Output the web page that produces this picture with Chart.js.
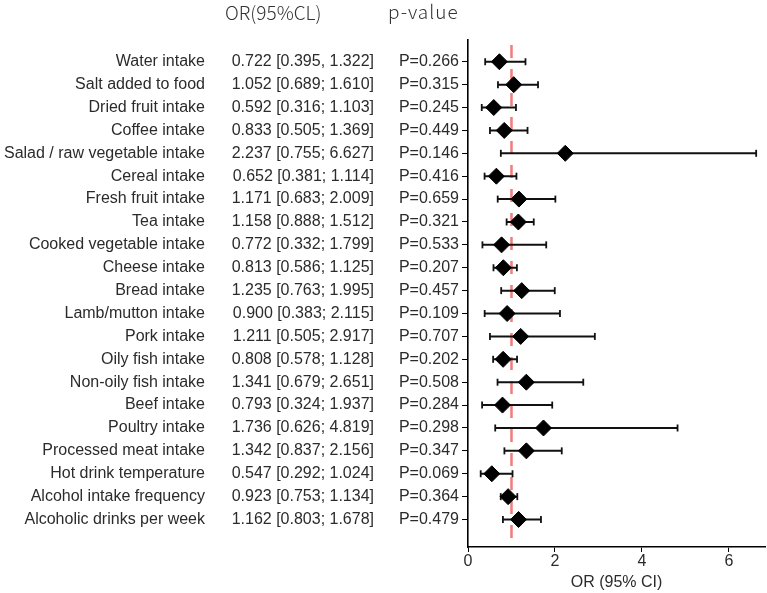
<!DOCTYPE html>
<html>
<head>
<meta charset="utf-8">
<script src="https://cdn.jsdelivr.net/npm/chart.js@4"></script>
<style>
  html, body { margin: 0; padding: 0; background: #fff; }
  #wrap { width: 767px; height: 593px; position: relative; }
</style>
</head>
<body>
<div id="wrap"><canvas id="forest"></canvas></div>
<script>
const factors = [
  'Water intake', 'Salt added to food', 'Dried fruit intake', 'Coffee intake',
  'Salad / raw vegetable intake', 'Cereal intake', 'Fresh fruit intake', 'Tea intake',
  'Cooked vegetable intake', 'Cheese intake', 'Bread intake', 'Lamb/mutton intake',
  'Pork intake', 'Oily fish intake', 'Non-oily fish intake', 'Beef intake',
  'Poultry intake', 'Processed meat intake', 'Hot drink temperature',
  'Alcohol intake frequency', 'Alcoholic drinks per week'
];
const orValues = [0.722, 1.052, 0.592, 0.833, 2.237, 0.652, 1.171, 1.158, 0.772, 0.813, 1.235,
  0.900, 1.211, 0.808, 1.341, 0.793, 1.736, 1.342, 0.547, 0.923, 1.162];
const ciLow = [0.395, 0.689, 0.316, 0.505, 0.755, 0.381, 0.683, 0.888, 0.332, 0.586, 0.763,
  0.383, 0.505, 0.578, 0.679, 0.324, 0.626, 0.837, 0.292, 0.753, 0.803];
const ciHigh = [1.322, 1.610, 1.103, 1.369, 6.627, 1.114, 2.009, 1.512, 1.799, 1.125, 1.995,
  2.115, 2.917, 1.128, 2.651, 1.937, 4.819, 2.156, 1.024, 1.134, 1.678];
const pValues = [0.266, 0.315, 0.245, 0.449, 0.146, 0.416, 0.659, 0.321, 0.533, 0.207, 0.457,
  0.109, 0.707, 0.202, 0.508, 0.284, 0.298, 0.347, 0.069, 0.364, 0.479];
// first row in the source uses a comma, the rest a semicolon
const ciSep = [', ', '; ', '; ', '; ', '; ', '; ', '; ', '; ', '; ', '; ', '; ',
  '; ', '; ', '; ', '; ', '; ', '; ', '; ', '; ', '; ', '; '];
const xTicks = [0, 2, 4, 6];
const refLine = 1;

const textColor = '#2b2b2b';
const bodyFont = '16px "Liberation Sans", Arial, sans-serif';
const headFont = '300 19px "Noto Sans CJK SC", "Liberation Sans", sans-serif';

const rows = factors.map((f, i) => i);

// CI segments, broken by NaN gaps
const ciPoints = [];
rows.forEach(i => {
  ciPoints.push({ x: ciLow[i], y: i });
  ciPoints.push({ x: ciHigh[i], y: i });
  ciPoints.push({ x: NaN, y: NaN });
});

const tablePlugin = {
  id: 'tableText',
  afterDraw(chart) {
    const ctx = chart.ctx;
    const y = chart.scales.y;
    ctx.save();
    ctx.fillStyle = textColor;
    ctx.textBaseline = 'middle';
    ctx.font = bodyFont;
    rows.forEach(i => {
      const py = y.getPixelForValue(i);
      ctx.textAlign = 'right';
      ctx.fillText(factors[i], 205, py);
      const txt = orValues[i].toFixed(3) + ' [' + ciLow[i].toFixed(3) + ciSep[i] + ciHigh[i].toFixed(3) + ']';
      ctx.fillText(txt, 374, py);
      ctx.fillText('P=' + pValues[i].toFixed(3), 459, py);
    });
    ctx.font = headFont;
    ctx.fillStyle = '#333';
    ctx.textAlign = 'left';
    ctx.fillText('OR(95%CL)', 225, 13);
    ctx.letterSpacing = '1px';
    ctx.fillText('p-value', 388, 12);
    ctx.restore();
  }
};

new Chart(document.getElementById('forest'), {
  type: 'scatter',
  data: {
    datasets: [
      {
        type: 'line',
        data: [{ x: refLine, y: -0.95 }, { x: refLine, y: 21.2 }],
        borderColor: 'rgba(240, 100, 100, 0.85)',
        borderWidth: 2.5,
        borderDash: [13, 11],
        borderDashOffset: 19,
        pointRadius: 0,
        order: 3
      },
      {
        type: 'line',
        data: ciPoints,
        borderColor: '#111',
        borderWidth: 2,
        spanGaps: false,
        pointStyle: 'line',
        rotation: 90,
        pointRadius: 3.5,
        pointBorderWidth: 1.8,
        pointBorderColor: '#111',
        order: 2
      },
      {
        data: rows.map(i => ({ x: orValues[i], y: i })),
        pointStyle: 'rectRot',
        pointRadius: 8,
        backgroundColor: '#000',
        borderColor: '#000',
        borderWidth: 1,
        order: 1
      }
    ]
  },
  options: {
    responsive: true,
    maintainAspectRatio: false,
    animation: false,
    layout: { autoPadding: false, padding: { left: 461, top: 40, right: 2, bottom: 0 } },
    plugins: { legend: { display: false }, tooltip: { enabled: false } },
    scales: {
      x: {
        type: 'linear',
        min: 0,
        max: 6.83,
        afterBuildTicks: s => { s.ticks = xTicks.map(v => ({ value: v })); },
        afterFit: s => { s.height = 46; },
        grid: { drawOnChartArea: false, drawTicks: true, tickLength: 5, color: '#000', lineWidth: 1 },
        border: { display: true, color: '#000', width: 1.6 },
        ticks: { padding: 0, color: textColor, font: { family: '"Liberation Sans", Arial, sans-serif', size: 16 } },
        title: {
          display: true,
          text: 'OR (95% CI)',
          color: textColor,
          padding: { top: 0, bottom: 1 },
          font: { family: '"Liberation Sans", Arial, sans-serif', size: 16 }
        }
      },
      y: {
        type: 'linear',
        reverse: true,
        min: -0.95,
        max: 21.2,
        afterBuildTicks: s => { s.ticks = rows.map(v => ({ value: v })); },
        afterFit: s => { s.width = 7; },
        grid: { drawOnChartArea: false, drawTicks: true, tickLength: 6, color: '#000', lineWidth: 1 },
        border: { display: true, color: '#000', width: 1.6 },
        ticks: { display: false }
      }
    }
  },
  plugins: [tablePlugin]
});
</script>
</body>
</html>
